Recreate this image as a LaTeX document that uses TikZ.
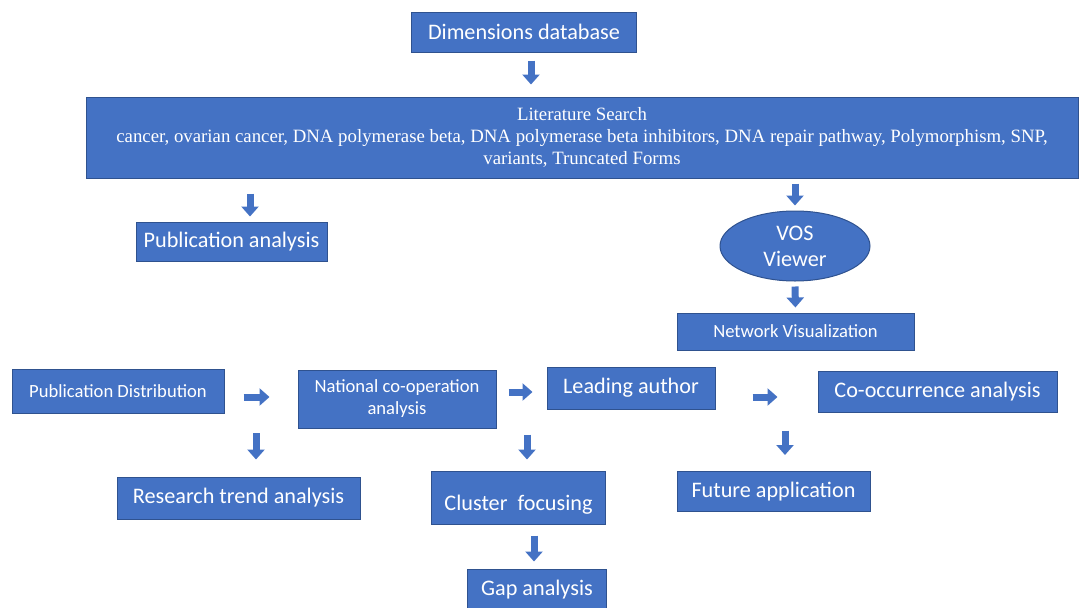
\documentclass[tikz,border=0pt]{standalone}
\usepackage{fontspec}
\setmainfont{Carlito}
\newfontfamily\timesfont{Liberation Serif}
\usetikzlibrary{positioning,arrows.meta,shapes.geometric,calc}
\definecolor{boxblue}{HTML}{4472C4}
\definecolor{boxedge}{HTML}{2F528F}

\begin{document}
\begin{tikzpicture}[x=1pt,y=-1pt,
    blk/.style={draw=boxedge, fill=boxblue, line width=1pt, text=white,
        inner sep=2pt, font=\fontsize{22.2}{26}\selectfont},
    small/.style={font=\fontsize{18.6}{22}\selectfont},
    flow/.style={draw=boxblue, line width=7pt, -{Triangle[width=17pt,length=10pt]}},
    trim/.style 2 args={shorten <=#1, shorten >=#2}]
    \useasboundingbox (0,0) rectangle (1080,608);
    %% top part
    \node[blk, minimum width=225, minimum height=40] (db) at (524,32) {Dimensions database};
    \node[blk, minimum width=992, minimum height=81, align=center,
        font=\timesfont\fontsize{18.8}{22}\selectfont] (lit) at (582,137.5)
        {Literature Search\\
         cancer, ovarian cancer, DNA polymerase beta, DNA polymerase beta inhibitors, DNA repair pathway, Polymorphism, SNP,\\
         variants, Truncated Forms};
    \node[blk, minimum width=191, minimum height=39] (pub) at (231.5,241.5) {Publication analysis};
    \node[blk, ellipse, inner sep=0pt, minimum width=150, minimum height=70, align=center]
        (vos) at (795,246) {VOS\\Viewer};
    \node[blk, small, minimum width=237, minimum height=37] (net) at (795.5,331.5) {Network Visualization};
    %% middle row
    \node[blk, small, minimum width=212, minimum height=44] (dist) at (118,391.5) {Publication Distribution};
    \node[blk, small, minimum width=198, minimum height=58, align=center]
        (nat) at (397,399) {National co-operation\\analysis};
    \node[blk, minimum width=168, minimum height=42] (lead) at (631,388) {Leading author};
    \node[blk, minimum width=239, minimum height=41] (cooc) at (937.5,391.5) {Co-occurrence analysis};
    %% bottom row
    \node[blk, minimum width=243, minimum height=42] (trend) at (238.5,498) {Research trend analysis};
    \node[blk, minimum width=174, minimum height=53, text height=29pt] (clus) at (518.5,497.5) {Cluster\ \ focusing};
    \node[blk, minimum width=139, minimum height=42] (gap) at (537,590) {Gap analysis};
    \node[blk, minimum width=193, minimum height=40] (fut) at (773.5,491.5) {Future application};
    %% arrows
    \draw[flow, trim={8}{12}] (db.south -| 531,0) -- (lit.north -| 531,0);
    \draw[flow, trim={15}{5}] (lit.south -| 250,0) -- (pub.north -| 250,0);
    \draw[flow, trim={5}{5}] (lit.south -| vos.north) -- (vos.north);
    \draw[flow, trim={5}{5}] (vos.south) -- (net.north);
    \draw[flow, trim={19}{28}] (dist.east |- 0,397) -- (nat.west |- 0,397);
    \draw[flow, trim={12}{14}] (nat.east |- 0,392) -- (lead.west |- 0,392);
    \draw[flow, trim={37}{40}] (lead.east |- 0,397) -- (cooc.west |- 0,397);
    \draw[flow, trim={19}{17}] (dist.south -| 256,0) -- (trend.north -| 256,0);
    \draw[flow, trim={6}{11}] (nat.south -| 527,0) -- (clus.north -| 527,0);
    \draw[flow, trim={11}{7}] (clus.south -| 534,0) -- (gap.north -| 534,0);
    \draw[flow, trim={18}{16}] (cooc.south -| 785,0) -- (fut.north -| 785,0);
\end{tikzpicture}
\end{document}
